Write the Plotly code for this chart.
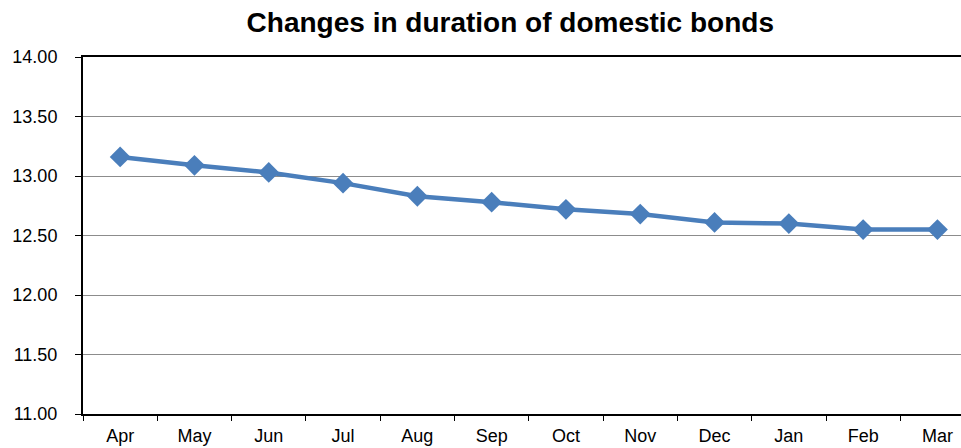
import plotly.graph_objects as go

months = ["Apr", "May", "Jun", "Jul", "Aug", "Sep", "Oct", "Nov", "Dec", "Jan", "Feb", "Mar"]
duration = [13.16, 13.09, 13.03, 12.94, 12.83, 12.78, 12.72, 12.68, 12.61, 12.60, 12.55, 12.55]
y_ticks = [11.0, 11.5, 12.0, 12.5, 13.0, 13.5, 14.0]

fig = go.Figure()
fig.add_trace(go.Scatter(
    x=months, y=duration,
    mode="lines+markers",
    line=dict(color="#4A7EBB", width=4.5),
    marker=dict(symbol="diamond", size=16, color="#4A7EBB"),
    showlegend=False,
))

fig.update_layout(
    width=961, height=448,
    margin=dict(l=83, r=0, t=57, b=34),
    plot_bgcolor="white", paper_bgcolor="white",
    font=dict(family="Liberation Sans, Arial, sans-serif", size=18, color="black"),
    title=dict(
        text="<b>Changes in duration of domestic bonds</b>",
        x=0.531, xanchor="center", y=0.95, yanchor="middle",
        font=dict(size=28, color="black"),
    ),
)
fig.update_xaxes(
    type="category",
    range=[-0.5, 11.317],
    showline=True, linecolor="black", linewidth=2, mirror=True,
    ticks="outside", tickson="boundaries", ticklen=5, tickcolor="black",
    ticklabelstandoff=4,
    showgrid=False,
)
fig.update_yaxes(
    range=[11.0, 14.0],
    tickvals=y_ticks,
    ticktext=[f"{v:.2f}" for v in y_ticks],
    showline=True, linecolor="black", linewidth=2,
    ticks="outside", ticklen=6, tickcolor="black",
    ticklabelstandoff=14,
    showgrid=True, gridcolor="#8c8c8c", gridwidth=1,
    zeroline=False,
)

# drop the default body margin so the figure sits at the page origin
fig.write_html("out.html", config={"displayModeBar": False},
               post_script="document.body.style.margin='0';")
